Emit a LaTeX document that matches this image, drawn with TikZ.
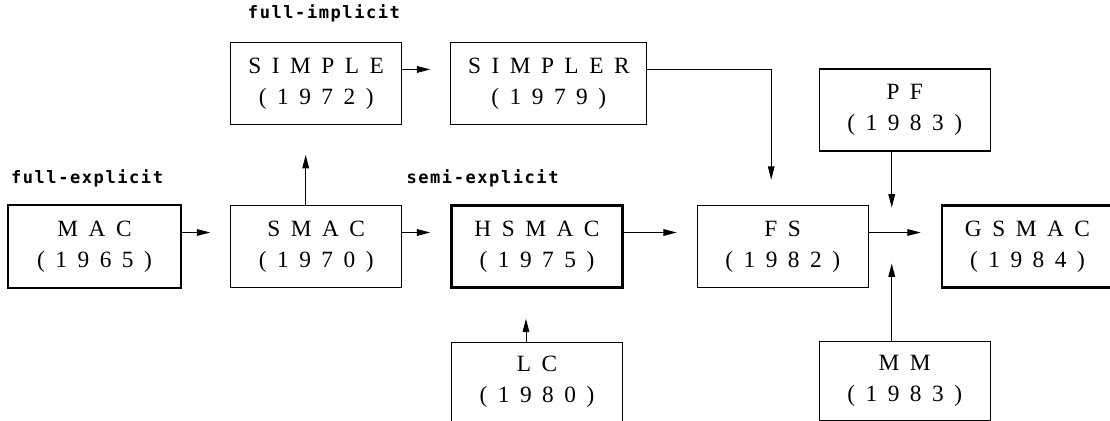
\documentclass[tikz,border=0pt]{standalone}
\usepackage{fontspec}
\setmainfont{Liberation Serif}[WordSpace=1.8]
\newfontfamily\lblfont{DejaVu Sans Mono}[LetterSpace=9]
\usetikzlibrary{arrows.meta,positioning}

\begin{document}
\begin{tikzpicture}[
  node distance=36pt and 36pt,
  box/.style={draw, line width=0.8pt, align=center, minimum width=128.25pt, minimum height=61.5pt, inner sep=2pt, font=\fontsize{17.5}{23.25}\selectfont},
  main/.style={box, line width=1.8pt},
  lbl/.style={font=\lblfont\bfseries\fontsize{12.8}{14}\selectfont, inner sep=0pt},
  arr/.style={-{Triangle[length=10pt,width=5pt]}, line width=0.7pt}
]
\useasboundingbox (0,0) rectangle (832.5pt,-315.75pt);
% middle row
\node[main, minimum width=129.75pt, minimum height=62.25pt] (mac) at (70.875pt,-184.875pt) {M A C\\( 1 9 6 5 )};
\node[box, right=of mac] (smac) {S M A C\\( 1 9 7 0 )};
\node[main, right=of smac] (hsmac) {H S M A C\\( 1 9 7 5 )};
\node[box, right=54.75pt of hsmac] (fs) {F S\\( 1 9 8 2 )};
\node[main, right=54pt of fs] (gsmac) {G S M A C\\( 1 9 8 4 )};
% top row
\node[box, above=60pt of smac] (simple) {S I M P L E\\( 1 9 7 2 )};
\node[box, right=of simple, minimum width=147pt] (simpler) {S I M P L E R\\( 1 9 7 9 )};
% merge point before GSMAC
\coordinate (mrg) at ([shift={(17.25pt,10.5pt)}]fs.east);
\node[box, above=60.75pt of mrg, xshift=9.75pt] (pf) {P F\\( 1 9 8 3 )};
% bottom row
\node[box, below=39.75pt of hsmac, minimum height=59.25pt] (lc) {L C\\( 1 9 8 0 )};
\node[box, below=81pt of mrg, xshift=9.75pt, minimum height=59.25pt] (mm) {M M\\( 1 9 8 3 )};
% labels
\node[lbl, above right=15pt and 3pt of mac.north west, anchor=base west] (lexp) {full-explicit};
\node[lbl, above left=17.25pt and 1.5pt of simple.north east, anchor=base east] (limp) {full-implicit};
\node[lbl, above left=15.4pt and 33pt of hsmac.north west, anchor=base west] (lsemi) {semi-explicit};
% connectors
\draw[arr, shorten >=15pt] ([yshift=10.5pt]mac.east) -- ([yshift=10.5pt]smac.west);
\draw[arr, shorten >=15pt] ([yshift=10.5pt]smac.east) -- ([yshift=10.5pt]hsmac.west);
\draw[arr, shorten >=15pt] ([yshift=10.5pt]hsmac.east) -- ([yshift=10.5pt]fs.west);
\draw[arr, shorten >=15pt] ([yshift=10.5pt]fs.east) -- ([yshift=10.5pt]gsmac.west);
\draw[arr, shorten >=15pt] ([yshift=10.5pt]simple.east) -- ([yshift=10.5pt]simpler.west);
\draw[arr, shorten >=22.5pt] ([xshift=-7.9pt]smac.north) -- ([xshift=-7.9pt]simple.south);
\draw[arr, shorten >=22.5pt] ([xshift=-8.25pt]lc.north) -- ([xshift=-8.25pt]lc.north |- hsmac.south);
\draw[arr, shorten >=19pt] ([yshift=10.5pt]simpler.east) -| ([xshift=-8.6pt]fs.north);
\draw[arr, shorten >=18.75pt] (pf.south -| mrg) -- (mrg);
\draw[arr, shorten >=23.25pt] (mm.north -| mrg) -- (mrg);
\end{tikzpicture}
\end{document}
